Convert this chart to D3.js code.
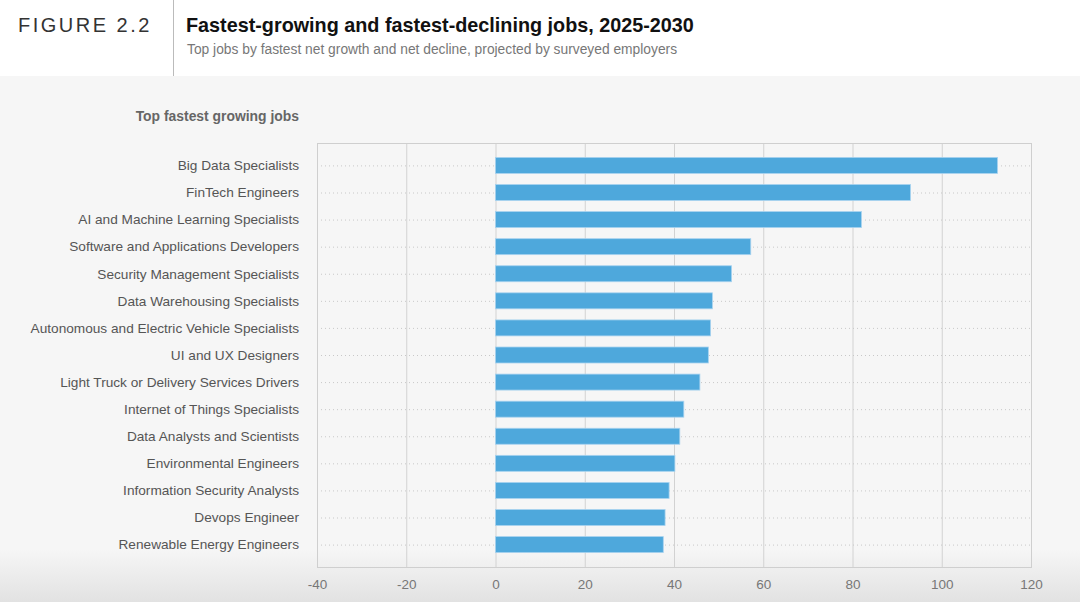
<!DOCTYPE html>
<html>
<head>
<meta charset="utf-8">
<script src="https://cdn.jsdelivr.net/npm/d3@7"></script>
<style>
  body { margin: 0; background: #fff; font-family: "Liberation Sans", Arial, sans-serif; }
  svg { display: block; }
</style>
</head>
<body>
<svg width="1080" height="602"></svg>
<script>
const jobs = [
    "Big Data Specialists",
    "FinTech Engineers",
    "AI and Machine Learning Specialists",
    "Software and Applications Developers",
    "Security Management Specialists",
    "Data Warehousing Specialists",
    "Autonomous and Electric Vehicle Specialists",
    "UI and UX Designers",
    "Light Truck or Delivery Services Drivers",
    "Internet of Things Specialists",
    "Data Analysts and Scientists",
    "Environmental Engineers",
    "Information Security Analysts",
    "Devops Engineer",
    "Renewable Energy Engineers"
];
const growth = [112.5, 93, 82, 57.2, 52.9, 48.6, 48.2, 47.7, 45.8, 42.2, 41.3, 40.2, 38.9, 38, 37.6];
const xTicks = [-40, -20, 0, 20, 40, 60, 80, 100, 120];

const figureLabel = "FIGURE 2.2";
const title = "Fastest-growing and fastest-declining jobs, 2025-2030";
const subtitle = "Top jobs by fastest net growth and net decline, projected by surveyed employers";
const panelTitle = "Top fastest growing jobs";

const svg = d3.select("svg");

// backgrounds
const defs = svg.append("defs");
const grad = defs.append("linearGradient").attr("id", "bg").attr("x1", 0).attr("x2", 0).attr("y1", 0).attr("y2", 1);
grad.append("stop").attr("offset", "0").attr("stop-color", "#f6f6f6");
grad.append("stop").attr("offset", "0.9").attr("stop-color", "#f6f6f6");
grad.append("stop").attr("offset", "1").attr("stop-color", "#e2e2e2");

svg.append("rect").attr("x", 0).attr("y", 0).attr("width", 1080).attr("height", 76).attr("fill", "#fff");
svg.append("rect").attr("x", 0).attr("y", 76).attr("width", 1080).attr("height", 526).attr("fill", "url(#bg)");

// header
svg.append("line").attr("x1", 173.5).attr("x2", 173.5).attr("y1", 0).attr("y2", 76)
    .attr("stroke", "#bbb").attr("stroke-width", 1);
svg.append("text").attr("x", 18).attr("y", 32).text(figureLabel)
    .attr("font-size", 20).attr("letter-spacing", "2.5px").attr("fill", "#333");
svg.append("text").attr("x", 186).attr("y", 32).text(title)
    .attr("font-size", 19.8).attr("font-weight", "bold").attr("fill", "#111");
svg.append("text").attr("x", 187).attr("y", 54).text(subtitle)
    .attr("font-size", 13.8).attr("fill", "#777");

// chart area
const plotL = 317, plotR = 1031, plotT = 143, plotB = 567;

const x = d3.scaleLinear().domain([-40, 120]).range([plotL, plotR]);
const y = d3.scaleBand().domain(jobs).range([152, 558]).paddingInner(0.41).paddingOuter(0.2);

const g = svg.append("g");

// vertical grid
g.selectAll(".vgrid").data(xTicks).enter().append("line")
    .attr("x1", d => x(d) + 0.5).attr("x2", d => x(d) + 0.5)
    .attr("y1", plotT).attr("y2", plotB)
    .attr("stroke", "#d2d2d2").attr("stroke-width", 1);

// dotted row lines
g.selectAll(".hgrid").data(jobs).enter().append("line")
    .attr("x1", plotL).attr("x2", plotR)
    .attr("y1", d => y(d) + y.bandwidth() / 2 + 0.5).attr("y2", d => y(d) + y.bandwidth() / 2 + 0.5)
    .attr("stroke", "#c8c8c8").attr("stroke-width", 1).attr("stroke-dasharray", "1 3");

// frame
g.append("rect").attr("x", plotL + 0.5).attr("y", plotT + 0.5)
    .attr("width", plotR - plotL).attr("height", plotB - plotT)
    .attr("fill", "none").attr("stroke", "#cfcfcf");

// bars
g.selectAll(".bar").data(jobs).enter().append("rect")
    .attr("x", x(0))
    .attr("y", d => y(d))
    .attr("width", (d, i) => x(growth[i]) - x(0))
    .attr("height", y.bandwidth())
    .attr("fill", "#4ea8dc")
    .attr("stroke", "#a8d3ef").attr("stroke-width", 0.8);

// category labels
g.selectAll(".cat").data(jobs).enter().append("text")
    .attr("x", 299)
    .attr("y", d => y(d) + y.bandwidth() / 2)
    .attr("dy", "0.35em")
    .attr("text-anchor", "end")
    .attr("font-size", 13.65)
    .attr("fill", "#555")
    .text(d => d);

svg.append("text").attr("x", 299).attr("y", 121).attr("text-anchor", "end")
    .attr("font-size", 13.9).attr("font-weight", "bold").attr("fill", "#666").text(panelTitle);

// x axis labels (plain hyphen minus like the original)
const xAxis = d3.axisBottom(x).tickValues(xTicks).tickSize(0).tickPadding(0).tickFormat(d => String(d));
const ax = svg.append("g").attr("transform", `translate(0,${plotB + 12})`).call(xAxis);
ax.select(".domain").remove();
ax.selectAll("text").attr("font-size", 13.5).attr("fill", "#777")
    .attr("font-family", "Liberation Sans, Arial, sans-serif");
</script>
</body>
</html>
